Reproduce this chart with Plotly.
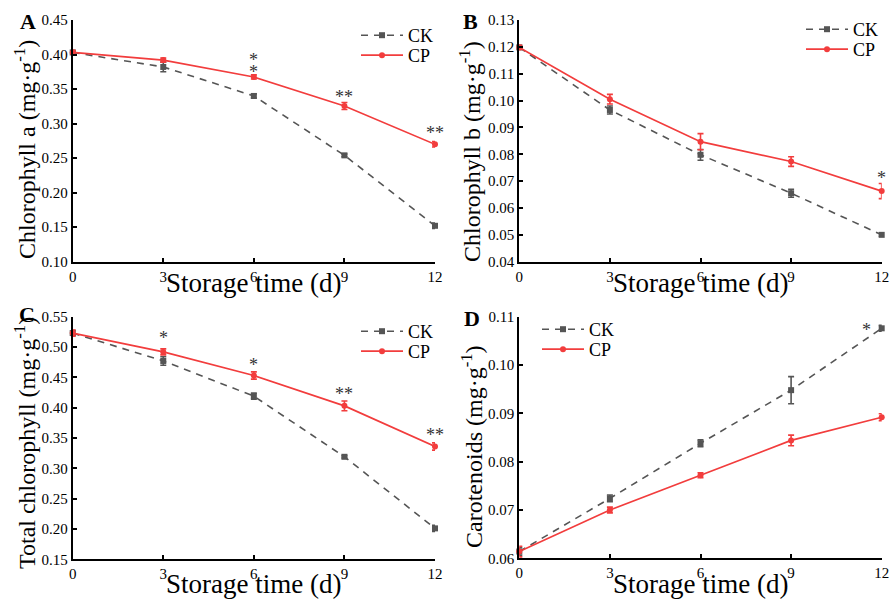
import plotly.graph_objects as go

days = [0, 3, 6, 9, 12]
x_ticks = [0, 3, 6, 9, 12]

# Panel A: Chlorophyll a
chla_ck = [0.403, 0.382, 0.340, 0.254, 0.152]
chla_ck_err = [0.002, 0.007, 0.003, 0.002, 0.004]
chla_cp = [0.403, 0.392, 0.3675, 0.3255, 0.270]
chla_cp_err = [0.003, 0.003, 0.003, 0.005, 0.004]

# Panel B: Chlorophyll b
chlb_ck = [0.1198, 0.0965, 0.0798, 0.0655, 0.0500]
chlb_ck_err = [0.0005, 0.0015, 0.002, 0.0015, 0.0005]
chlb_cp = [0.1198, 0.1005, 0.0847, 0.0773, 0.0663]
chlb_cp_err = [0.0008, 0.0018, 0.003, 0.0018, 0.0028]

# Panel C: Total chlorophyll
tot_ck = [0.523, 0.477, 0.419, 0.319, 0.201]
tot_ck_err = [0.004, 0.007, 0.005, 0.002, 0.005]
tot_cp = [0.523, 0.492, 0.453, 0.403, 0.336]
tot_cp_err = [0.005, 0.005, 0.006, 0.008, 0.006]

# Panel D: Carotenoids
car_ck = [0.0614, 0.0724, 0.0838, 0.0948, 0.1076]
car_ck_err = [0.0008, 0.0007, 0.0007, 0.0028, 0.0006]
car_cp = [0.0614, 0.0700, 0.0772, 0.0844, 0.0892]
car_cp_err = [0.0011, 0.0006, 0.0005, 0.0011, 0.0007]

# Significance marks (day, text)
sig_A = [(6, "*"), (6, "*"), (9, "**"), (12, "**")]
sig_B = [(12, "*")]
sig_C = [(3, "*"), (6, "*"), (9, "**"), (12, "**")]
sig_D = [(12, "*")]

panel_letters = ["A", "B", "C", "D"]
y_titles = ["Chlorophyll a (mg·g<sup>-1</sup>)", "Chlorophyll b (mg·g<sup>-1</sup>)",
            "Total chlorophyll (mg·g<sup>-1</sup>)", "Carotenoids (mg·g<sup>-1</sup>)"]
x_title = "Storage time (d)"
series_names = ["CK", "CP"]

# ---------------- styling / layout ----------------
W, H = 891, 600
CK_COLOR = "#555555"
CP_COLOR = "#f23d3d"
FONT = "Liberation Serif, Times New Roman, serif"

# pixel shifts for significance marks (per panel, per mark)
sig_shift = [
    [(0, 3), (0, -9), (0, -6), (0, -3)],
    [(0, -6)],
    [(0, -1), (0, -5), (0, -5), (0, -4)],
    [(-15, -14)],
]


def px(v):
    return v / W


def py(v):
    return 1 - v / H


panels = [
    dict(xd=[72.7, 435], yd=[20, 261.7], yr=[0.10, 0.45], dt=0.05,
         ck=chla_ck, cke=chla_ck_err, cp=chla_cp, cpe=chla_cp_err, sig=sig_A,
         leg=(356, 17, 37), ytc=(25, 150), letter=(28, 22), xt=283),
    dict(xd=[519.3, 881.7], yd=[20, 261.7], yr=[0.04, 0.13], dt=0.01,
         ck=chlb_ck, cke=chlb_ck_err, cp=chlb_cp, cpe=chlb_cp_err, sig=sig_B,
         leg=(801, 11, 31), ytc=(470, 152), letter=(470, 22), xt=283),
    dict(xd=[72.7, 435], yd=[316.7, 559.3], yr=[0.15, 0.55], dt=0.05,
         ck=tot_ck, cke=tot_ck_err, cp=tot_cp, cpe=tot_cp_err, sig=sig_C,
         leg=(356, 313, 333), ytc=(25, 443), letter=(27, 314), xt=584),
    dict(xd=[519.3, 881.7], yd=[316.7, 558.3], yr=[0.06, 0.11], dt=0.01,
         ck=car_ck, cke=car_ck_err, cp=car_cp, cpe=car_cp_err, sig=sig_D,
         leg=(537, 311, 331), ytc=(472, 447), letter=(472, 318), xt=584),
]

fig = go.Figure()
annotations = []
layout = {}

for i, p in enumerate(panels):
    n = "" if i == 0 else str(i + 1)
    xa, ya = "x" + n, "y" + n
    leg_ck = "legend" if i == 0 else "legend" + str(2 * i + 1)
    leg_cp = "legend" + str(2 * i + 2)
    fig.add_trace(go.Scatter(
        x=days, y=p["ck"], name=series_names[0], xaxis=xa, yaxis=ya, legend=leg_ck,
        mode="lines+markers", cliponaxis=False, showlegend=True,
        line=dict(color=CK_COLOR, width=1.6, dash="7px,6px"),
        marker=dict(symbol="square", size=6, color=CK_COLOR),
        error_y=dict(type="data", array=p["cke"], color=CK_COLOR, thickness=1.6, width=3),
    ))
    fig.add_trace(go.Scatter(
        x=days, y=p["cp"], name=series_names[1], xaxis=xa, yaxis=ya, legend=leg_cp,
        mode="lines+markers", cliponaxis=False, showlegend=True,
        line=dict(color=CP_COLOR, width=1.7),
        marker=dict(symbol="circle", size=6, color=CP_COLOR),
        error_y=dict(type="data", array=p["cpe"], color=CP_COLOR, thickness=1.6, width=3),
    ))
    ymin, ymax = p["yr"]
    nt = int(round((ymax - ymin) / p["dt"]))
    yt = [round(ymin + k * p["dt"], 4) for k in range(nt + 1)]
    axis_common = dict(
        showline=True, linecolor="black", linewidth=2, ticks="inside", ticklen=4,
        tickwidth=1.5, tickcolor="black", showgrid=False, zeroline=False,
        tickfont=dict(family=FONT, size=15, color="black"), ticklabelstandoff=0,
        automargin=False,
    )
    layout["xaxis" + n] = dict(
        domain=[px(p["xd"][0]), px(p["xd"][1])], anchor=ya, range=[0, 12],
        tickvals=x_ticks, ticktext=[str(t) for t in x_ticks], **axis_common,
    )
    layout["yaxis" + n] = dict(
        domain=[py(p["yd"][1]), py(p["yd"][0])], anchor=xa, range=[ymin, ymax],
        tickvals=yt, ticktext=[format(v, ".2f") for v in yt], **axis_common,
    )
    for lg, ytop in ((leg_ck, p["leg"][1]), (leg_cp, p["leg"][2])):
        layout[lg] = dict(
            x=px(p["leg"][0]), y=py(ytop), xanchor="left", yanchor="top",
            bgcolor="rgba(0,0,0,0)", font=dict(family=FONT, size=18, color="black"),
            itemwidth=42, visible=True,
        )
    # x title
    annotations.append(dict(
        x=(px(p["xd"][0]) + px(p["xd"][1])) / 2, y=py(p["xt"]),
        xref="paper", yref="paper", text=x_title, showarrow=False,
        xanchor="center", yanchor="middle", font=dict(family=FONT, size=27, color="black"),
    ))
    # y title
    annotations.append(dict(
        x=px(p["ytc"][0]), y=py(p["ytc"][1]), xref="paper", yref="paper",
        text=y_titles[i], textangle=-90, showarrow=False,
        xanchor="center", yanchor="middle", font=dict(family=FONT, size=24, color="black"),
    ))
    # panel letter
    annotations.append(dict(
        x=px(p["letter"][0]), y=py(p["letter"][1]), xref="paper", yref="paper",
        text="<b>" + panel_letters[i] + "</b>", showarrow=False,
        xanchor="center", yanchor="middle", font=dict(family=FONT, size=22, color="black"),
    ))
    # significance marks
    for j, (d, s) in enumerate(p["sig"]):
        k = days.index(d)
        xs, ys = sig_shift[i][j]
        if i == 3:
            yv = p["ck"][k]
        else:
            yv = p["cp"][k] + p["cpe"][k]
        annotations.append(dict(
            x=d, y=yv, xref=xa, yref=ya, text=s, showarrow=False,
            xanchor="center", yanchor="bottom", xshift=xs, yshift=ys,
            font=dict(family=FONT, size=18, color="#333333"),
        ))

fig.update_layout(
    width=W, height=H, margin=dict(l=0, r=0, t=0, b=0, autoexpand=False),
    paper_bgcolor="white", plot_bgcolor="white", showlegend=True,
    annotations=annotations, **layout,
)

page_css = (
    "document.documentElement.style.margin='0';"
    "document.body.style.margin='0';"
    "document.documentElement.style.overflow='hidden';"
    "document.body.style.overflow='hidden';"
)

fig.write_html("out.html", config={"displayModeBar": False}, post_script=page_css)
